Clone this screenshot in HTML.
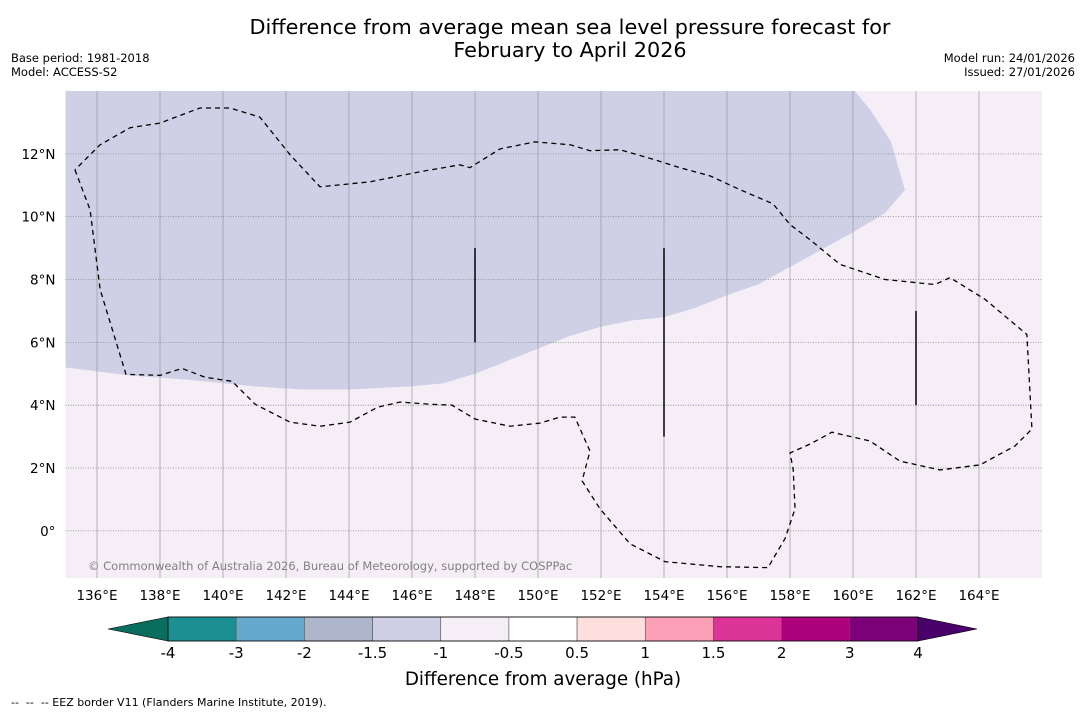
<!DOCTYPE html>
<html><head><meta charset="utf-8"><style>
body{margin:0;background:#fff;}
svg text{font-family:"DejaVu Sans","Liberation Sans",sans-serif;}
</style></head><body>
<svg id="c" width="1085" height="713" viewBox="0 0 1085 713" xmlns="http://www.w3.org/2000/svg">
<text x="570" y="34" font-size="20.8" text-anchor="middle">Difference from average mean sea level pressure forecast for</text>
<text x="570" y="57" font-size="20.8" text-anchor="middle">February to April 2026</text>
<text x="11" y="62" font-size="11.5">Base period: 1981-2018</text>
<text x="11" y="76" font-size="11.5">Model: ACCESS-S2</text>
<text x="1075" y="62" font-size="11.5" text-anchor="end">Model run: 24/01/2026</text>
<text x="1075" y="76" font-size="11.5" text-anchor="end">Issued: 27/01/2026</text>
<g id="map"></g>
<g id="cbar"></g>
<text x="543" y="685" font-size="18.3" text-anchor="middle">Difference from average (hPa)</text>
<text x="11" y="706" font-size="11">--&#160;&#160;--&#160;&#160;-- EEZ border V11 (Flanders Marine Institute, 2019).</text>
</svg>
<script>
const lonTicks=[136,138,140,142,144,146,148,150,152,154,156,158,160,162,164];
const latTicks=[0,2,4,6,8,10,12];
const shadeLon=[135,137,139,141,142.5,144,146,147,148,149,150,151,152,153,154,155,156,157,158,159,160,161,161.65,161.2,160.55,160.05,135];
const shadeLat=[5.2,4.95,4.8,4.6,4.5,4.5,4.6,4.7,5.0,5.4,5.8,6.2,6.5,6.7,6.8,7.1,7.5,7.85,8.4,8.95,9.5,10.1,10.85,12.4,13.4,14,14];
const eezLon=[135.3,135.78,136.1,136.92,138.0,138.7,139.43,140.29,141.02,142.13,143.08,144.03,144.92,145.62,146.57,147.27,148.0,149.11,150.06,150.7,151.17,151.65,151.4,151.97,152.92,154.03,155.78,157.3,157.84,158.16,158.1,158.0,158.63,159.33,160.54,161.49,162.76,164.03,165.14,165.68,165.52,164.19,163.08,162.6,161.02,159.59,158.63,158.0,157.46,156.41,155.46,154.5,153.71,152.6,151.65,151.02,149.9,148.8,147.84,147.52,146.25,144.67,143.08,142.13,141.17,140.22,139.27,138.0,137.05,136.1,135.3];
const eezLat=[11.49,10.22,7.68,4.98,4.95,5.17,4.89,4.76,4.03,3.46,3.33,3.46,3.94,4.1,4.03,4.0,3.56,3.33,3.43,3.62,3.62,2.54,1.59,0.7,-0.41,-0.98,-1.14,-1.17,-0.25,0.7,1.97,2.48,2.76,3.14,2.86,2.22,1.94,2.1,2.7,3.24,6.25,7.37,8.06,7.84,8.0,8.48,9.27,9.75,10.41,10.86,11.3,11.56,11.81,12.13,12.1,12.29,12.38,12.16,11.56,11.65,11.43,11.11,10.95,11.97,13.17,13.46,13.46,12.98,12.83,12.29,11.49];
const segLon=[148,154,162];
const segLat0=[6,3,4];
const segLat1=[9,9,7];
const cbLevels=["-4","-3","-2","-1.5","-1","-0.5","0.5","1","1.5","2","3","4"];
const cbColors=["#1b8f91","#66a9cf","#adb6cb","#cfd0e5","#f5eef6","#ffffff","#fde0dd","#fa9fb5","#dd3497","#ae017e","#7a0177"];
const NS="http://www.w3.org/2000/svg";
const X0=65.5,Y0=91,W=976.5,H=487,LON0=135,LON1=166,LAT0=-1.5,LAT1=14;
const x=l=>X0+(l-LON0)/(LON1-LON0)*W;
const y=l=>Y0+(LAT1-l)/(LAT1-LAT0)*H;
function mk(t,a,p){const e=document.createElementNS(NS,t);for(const k in a)e.setAttribute(k,a[k]);p.appendChild(e);return e;}
const map=document.getElementById('map');
const bg=mk('rect',{x:X0,y:Y0,width:W,height:H,fill:'#f5eef6'},map);


const sh=mk('polygon',{points:shadeLon.map((l,i)=>x(l)+','+y(shadeLat[i])).join(' '),fill:'#cfd0e5'},map);


lonTicks.forEach(l=>{
 const g=mk('line',{x1:x(l),x2:x(l),y1:Y0,y2:Y0+H,stroke:'#999','stroke-width':0.7},map);
 
 
 const t=mk('text',{x:x(l),y:Y0+H+22,'font-size':13.5,'text-anchor':'middle'},map);t.textContent=l+'°E';
 
 
});
latTicks.forEach(l=>{
 const g=mk('line',{x1:X0,x2:X0+W,y1:y(l),y2:y(l),stroke:'#888','stroke-width':0.8,'stroke-dasharray':'1,1.5'},map);
 
 
 const t=mk('text',{x:X0-10,y:y(l)+5,'font-size':13.5,'text-anchor':'end'},map);t.textContent=l===0?'0°':l+'°N';
 
 
});
const eez=mk('polyline',{points:eezLon.map((l,i)=>x(l)+','+y(eezLat[i])).join(' '),fill:'none',stroke:'#000','stroke-width':1.3,'stroke-dasharray':'5,4'},map);


segLon.forEach((l,i)=>{
 const s=mk('line',{x1:x(l),x2:x(l),y1:y(segLat0[i]),y2:y(segLat1[i]),stroke:'#000','stroke-width':1.5},map);
 
 
});
const cp=mk('text',{x:88,y:570,'font-size':11.5,fill:'#808080'},map);cp.textContent='© Commonwealth of Australia 2026, Bureau of Meteorology, supported by COSPPac';


const cb=document.getElementById('cbar');
const CX0=168,CX1=918,CY=617,CH=24,bw=(CX1-CX0)/cbColors.length;
const lt=mk('polygon',{points:`108,${CY+CH/2} ${CX0},${CY} ${CX0},${CY+CH}`,fill:'#0a6e5e',stroke:'#000','stroke-width':0.6},cb);


const rt=mk('polygon',{points:`977,${CY+CH/2} ${CX1},${CY} ${CX1},${CY+CH}`,fill:'#49006a',stroke:'#000','stroke-width':0.6},cb);


cbColors.forEach((c,i)=>{
 const r=mk('rect',{x:CX0+i*bw,y:CY,width:bw,height:CH,fill:c,stroke:'#555','stroke-width':0.6},cb);
 
 
});
mk('rect',{x:CX0,y:CY,width:CX1-CX0,height:CH,fill:'none',stroke:'#000','stroke-width':0.8},cb);
cbLevels.forEach((v,i)=>{
 const t=mk('text',{x:CX0+i*bw,y:658,'font-size':15,'text-anchor':'middle'},cb);t.textContent=v;
 
 
});
</script>
</body></html>
